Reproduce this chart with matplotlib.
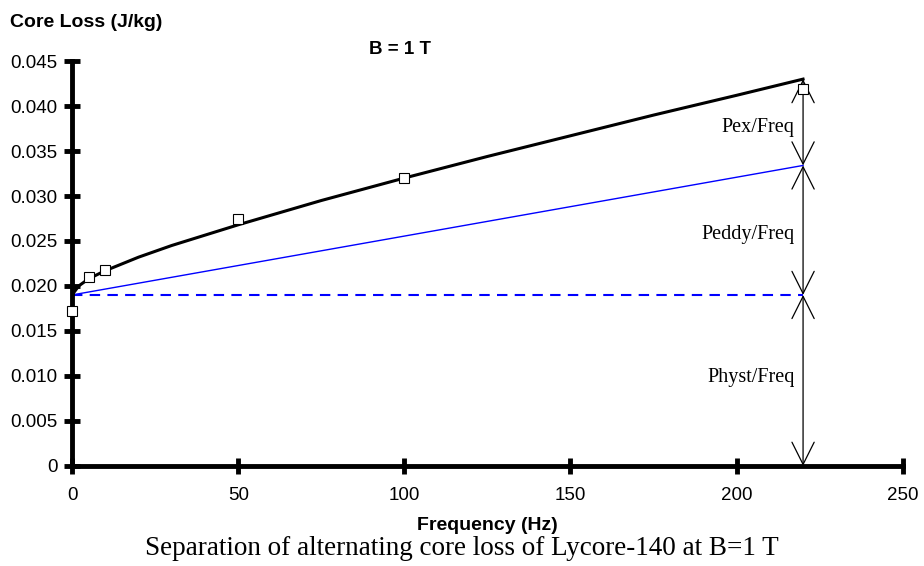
import numpy as np
import matplotlib.pyplot as plt

# datos medidos (marcadores)
freq_meas = [0, 5, 10, 50, 100, 220]
loss_meas = [0.0172, 0.0210, 0.0218, 0.0274, 0.0320, 0.0419]

# curva total
freq_fit = [0, 2, 5, 10, 20, 30, 50, 75, 100, 125, 150, 175, 200, 220]
loss_fit = [0.0190, 0.0200, 0.0208, 0.0217, 0.0232, 0.0245, 0.0268, 0.0295,
            0.0320, 0.0344, 0.0367, 0.0390, 0.0412, 0.0430]

# componentes
freq_line = [0, 220]
hyst_line = [0.019, 0.019]
eddy_line = [0.019, 0.0334]

f_sep = 220
levels = [0, 0.019, 0.0334, 0.0430]
labels = ['Physt/Freq', 'Peddy/Freq', 'Pex/Freq']
label_y = [0.0098, 0.0257, 0.0376]

fig = plt.figure(figsize=(9.24, 5.66), dpi=100)
ax = fig.add_axes([0.078, 0.177, 0.899, 0.715])

ax.plot(freq_line, hyst_line, color='blue', lw=1.5, ls=(0, (5, 3.5)))
ax.plot(freq_line, eddy_line, color='blue', lw=1.0)
ax.plot(freq_fit, loss_fit, color='black', lw=2.2)
ax.plot(freq_meas, loss_meas, ls='none', marker='s', ms=7, mfc='white',
        mec='black', mew=0.8, clip_on=False, zorder=5)

# flechas de separacion
for i in range(3):
    ax.annotate('', xy=(f_sep, levels[i]), xytext=(f_sep, levels[i + 1]),
                arrowprops=dict(arrowstyle='<->,head_length=1.6,head_width=0.8',
                                color='black', lw=0.9, shrinkA=0, shrinkB=0))
    ax.text(f_sep - 2.5, label_y[i], labels[i], ha='right', va='center',
            family='Liberation Serif', fontsize=14.5)

ax.set_xlim(0, 250)
ax.set_ylim(0, 0.045)
ax.set_xticks(np.arange(0, 251, 50))
ax.set_yticks(np.arange(0, 0.0451, 0.005))
ax.set_yticklabels(['0'] + ['%.3f' % v for v in np.arange(0.005, 0.0451, 0.005)])

for s in ['top', 'right']:
    ax.spines[s].set_visible(False)
for s in ['left', 'bottom']:
    ax.spines[s].set_linewidth(3.5)
ax.tick_params(direction='inout', length=11, width=3.5, labelsize=13.5)
ax.tick_params(axis='x', pad=10)
ax.tick_params(axis='y', pad=5)
for t in ax.get_xticklabels() + ax.get_yticklabels():
    t.set_family('Liberation Sans')

ax.set_xlabel('Frequency (Hz)', family='Liberation Sans', fontweight='bold',
              fontsize=14, labelpad=9)
fig.text(0.011, 0.961, 'Core Loss (J/kg)', family='Liberation Sans',
         fontweight='bold', fontsize=14, ha='left', va='center')
fig.text(0.433, 0.912, 'B = 1 T', family='Liberation Sans', fontweight='bold',
         fontsize=13.5, ha='center', va='center')
fig.text(0.5, 0.031, 'Separation of alternating core loss of Lycore-140 at B=1 T',
         family='Liberation Serif', fontsize=19.5, ha='center', va='center')

fig.savefig('out.png', dpi=100)
